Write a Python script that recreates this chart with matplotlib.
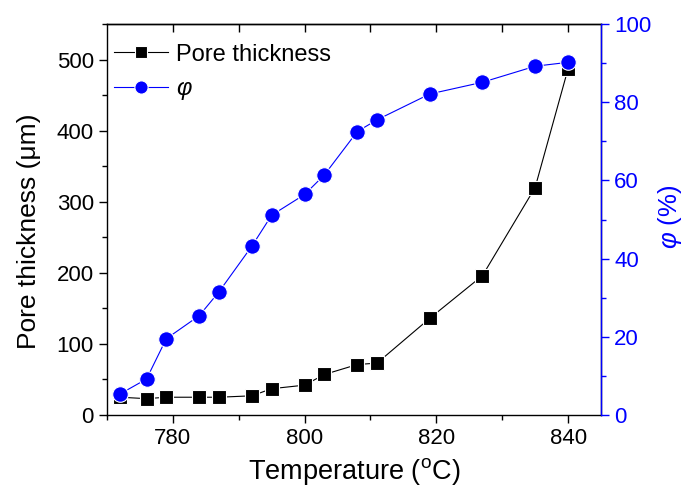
import numpy as np
import matplotlib
matplotlib.use("Agg")
import matplotlib.pyplot as plt
from matplotlib.ticker import MultipleLocator

plt.rcParams['font.family'] = ['Liberation Sans', 'DejaVu Sans']
plt.rcParams['mathtext.fontset'] = 'custom'
plt.rcParams['mathtext.rm'] = 'Liberation Sans'
plt.rcParams['mathtext.it'] = 'Liberation Sans:italic'

temperature = [772, 776, 779, 784, 787, 792, 795, 800, 803, 808, 811, 819, 827, 835, 840]
pore_thickness = [25, 23, 25, 25, 25, 27, 37, 42, 57, 71, 73, 136, 196, 320, 487]
phi = [5.4, 9.2, 19.5, 25.4, 31.5, 43.2, 51.1, 56.4, 61.4, 72.5, 75.5, 82.1, 85.1, 89.2, 90.2]

BLUE = '#0000ff'

fig = plt.figure(figsize=(6.9, 4.96), dpi=100)
ax = fig.add_axes([107/690, 81/496, (601-107)/690, (415-24)/496])
ax2 = ax.twinx()

l1, = ax.plot(temperature, pore_thickness, color='black', lw=0.8, marker='s', ms=9.8,
              mfc='black', mec='white', mew=0.8, label='Pore thickness')
l2, = ax2.plot(temperature, phi, color=BLUE, lw=0.8, marker='o', ms=11.2,
               mfc=BLUE, mec='white', mew=0.8, label='φ')

ax.set_xlim(770, 845)
ax.set_ylim(0, 550)
ax2.set_ylim(0, 100)

ax.xaxis.set_major_locator(MultipleLocator(20))
ax.xaxis.set_minor_locator(MultipleLocator(10))
ax.yaxis.set_major_locator(MultipleLocator(100))
ax.yaxis.set_minor_locator(MultipleLocator(50))
ax2.yaxis.set_major_locator(MultipleLocator(20))
ax2.yaxis.set_minor_locator(MultipleLocator(10))

ax.tick_params(which='major', direction='out', length=6, width=1, labelsize=16, top=False, right=False)
ax.tick_params(which='minor', direction='out', length=3.5, width=1, top=False, right=False)

sec = ax.secondary_xaxis('top')
sec.set_xticks(np.arange(780, 841, 10))
sec.tick_params(direction='in', length=6, width=1, labeltop=False)
sec.xaxis.set_minor_locator(plt.NullLocator())

ax2.tick_params(which='major', direction='out', length=6, width=1, labelsize=16, colors=BLUE)
ax2.tick_params(which='minor', direction='out', length=3.5, width=1, colors=BLUE)
ax2.spines['right'].set_color(BLUE)
for s in ['left', 'top', 'bottom']:
    ax2.spines[s].set_visible(False)
for s in ax.spines.values():
    s.set_linewidth(1)
ax2.spines['right'].set_linewidth(1)
sec.spines['top'].set_linewidth(1)

ax.set_xlabel(r'Temperature ($\mathregular{^o}$C)', fontsize=19.5, labelpad=5)
ax.set_ylabel('Pore thickness (μm)', fontsize=19)
ax.yaxis.set_label_coords(-0.133, 0.47)
ax2.set_ylabel(r'$\mathit{φ}$ (%)', fontsize=18.5, color=BLUE)
ax2.yaxis.set_label_coords(1.112, 0.508)

leg = ax2.legend([l1, l2], ['Pore thickness', 'φ'], loc='upper left', frameon=False,
                 fontsize=17, handlelength=2.3, handletextpad=0.35, labelspacing=0.5,
                 borderaxespad=0, borderpad=0, bbox_to_anchor=(0.014, 0.95),
                 markerscale=0.85)
leg.get_texts()[1].set_fontstyle('italic')

fig.savefig('out.png', dpi=100)
